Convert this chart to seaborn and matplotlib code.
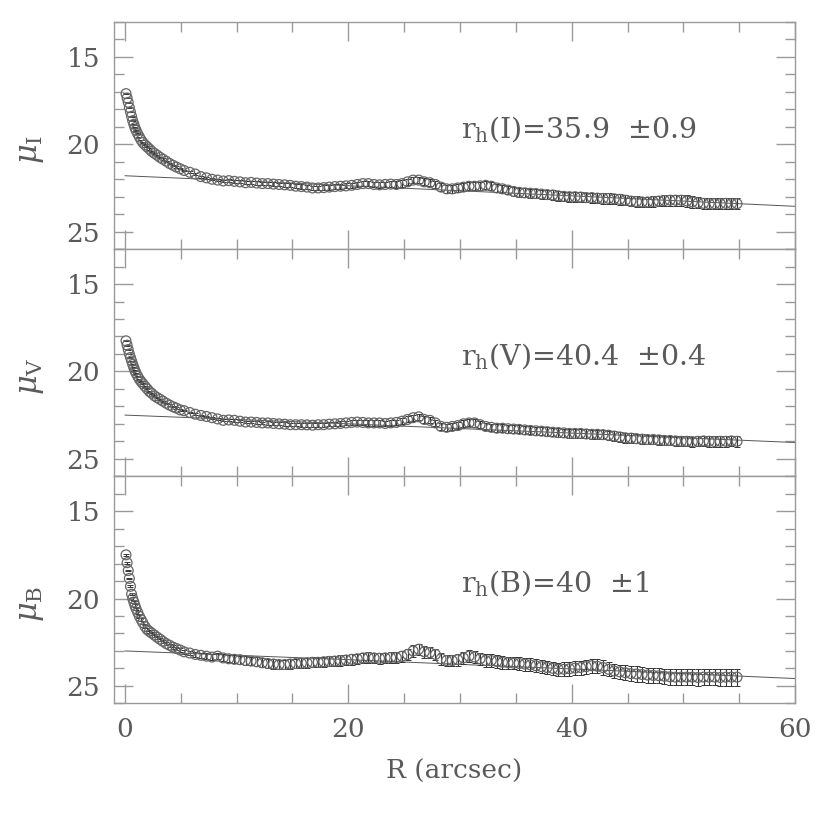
import numpy as np
import pandas as pd
import matplotlib
matplotlib.use("Agg")
import matplotlib.pyplot as plt
from matplotlib.ticker import MultipleLocator
import seaborn as sns

# radii (arcsec) of the isophotal points, same for the three bands
radius = [0.1, 0.2, 0.3, 0.4, 0.5, 0.6, 0.7, 0.8, 0.9, 1.0, 1.15, 1.3, 1.45, 1.6,
          1.8, 2.0, 2.2, 2.4, 2.65, 2.9, 3.15, 3.4, 3.7, 4.0, 4.3, 4.6, 4.95,
          5.3, 5.8, 6.3, 6.8, 7.3, 7.8, 8.3, 8.8, 9.3, 9.8,
          10.3, 10.8, 11.3, 11.8, 12.3, 12.8, 13.3, 13.8, 14.3, 14.8,
          15.3, 15.8, 16.3, 16.8, 17.3, 17.8, 18.3, 18.8, 19.3, 19.8,
          20.3, 20.8, 21.3, 21.8, 22.3, 22.8, 23.3, 23.8, 24.3, 24.8,
          25.3, 25.8, 26.3, 26.8, 27.3, 27.8, 28.3, 28.8, 29.3, 29.8,
          30.3, 30.8, 31.3, 31.8, 32.3, 32.8, 33.3, 33.8, 34.3, 34.8,
          35.3, 35.8, 36.3, 36.8, 37.3, 37.8, 38.3, 38.8, 39.3, 39.8,
          40.3, 40.8, 41.3, 41.8, 42.3, 42.8, 43.3, 43.8, 44.3, 44.8,
          45.3, 45.8, 46.3, 46.8, 47.3, 47.8, 48.3, 48.8, 49.3, 49.8,
          50.3, 50.8, 51.3, 51.8, 52.3, 52.8, 53.3, 53.8, 54.3, 54.8]

mu_I = [17.1, 17.35, 17.6, 17.9, 18.15, 18.4, 18.65, 18.85, 19.05, 19.2, 19.4, 19.58, 19.75, 19.9,
        20.03, 20.15, 20.27, 20.4, 20.52, 20.63, 20.75, 20.85, 20.97, 21.1, 21.2, 21.3, 21.4,
        21.5, 21.6, 21.7, 21.85, 21.92, 22.0, 22.05, 22.1, 22.08, 22.12,
        22.15, 22.2, 22.18, 22.22, 22.25, 22.25, 22.28, 22.3, 22.32, 22.35,
        22.4, 22.42, 22.45, 22.5, 22.5, 22.48, 22.45, 22.42, 22.4, 22.38,
        22.35, 22.3, 22.25, 22.25, 22.3, 22.32, 22.3, 22.28, 22.3, 22.25,
        22.15, 22.05, 22.05, 22.15, 22.2, 22.3, 22.45, 22.55, 22.55, 22.5,
        22.45, 22.4, 22.4, 22.38, 22.35, 22.4, 22.5, 22.55, 22.62, 22.7,
        22.75, 22.78, 22.8, 22.82, 22.85, 22.88, 22.9, 22.95, 22.98, 23.0,
        23.0, 23.02, 23.05, 23.05, 23.08, 23.1, 23.1, 23.12, 23.15, 23.2,
        23.25, 23.28, 23.3, 23.3, 23.28, 23.25, 23.22, 23.2, 23.2, 23.2,
        23.25, 23.3, 23.35, 23.38, 23.4, 23.4, 23.4, 23.38, 23.4, 23.4]

mu_V = [18.25, 18.5, 18.75, 19.0, 19.2, 19.4, 19.6, 19.78, 19.95, 20.1, 20.28, 20.45, 20.58, 20.7,
        20.85, 21.0, 21.15, 21.25, 21.4, 21.5, 21.6, 21.7, 21.82, 21.93, 22.02, 22.1, 22.2,
        22.25, 22.35, 22.45, 22.52, 22.58, 22.65, 22.72, 22.8, 22.78, 22.8,
        22.85, 22.9, 22.9, 22.92, 22.95, 22.95, 22.98, 23.0, 23.02, 23.05,
        23.05, 23.05, 23.06, 23.08, 23.05, 23.05, 23.02, 23.0, 22.98, 22.95,
        22.92, 22.9, 22.92, 22.95, 22.95, 22.95, 22.98, 22.95, 22.92, 22.85,
        22.75, 22.65, 22.6, 22.75, 22.8, 22.95, 23.15, 23.2, 23.15, 23.1,
        23.0, 22.95, 22.95, 23.05, 23.15, 23.2, 23.25, 23.25, 23.28, 23.3,
        23.32, 23.35, 23.38, 23.4, 23.42, 23.45, 23.48, 23.5, 23.52, 23.55,
        23.55, 23.55, 23.58, 23.6, 23.6, 23.62, 23.65, 23.7, 23.75, 23.8,
        23.82, 23.85, 23.88, 23.9, 23.9, 23.92, 23.95, 23.95, 23.98, 24.0,
        24.0, 24.02, 24.0, 23.98, 24.0, 24.02, 24.0, 24.0, 23.98, 24.0]

mu_B = [17.5, 17.95, 18.4, 18.85, 19.3, 19.75, 20.0, 20.2, 20.4, 20.58, 20.8, 21.02, 21.2, 21.38,
        21.6, 21.78, 21.88, 21.98, 22.1, 22.22, 22.33, 22.45, 22.58, 22.68, 22.78, 22.86, 22.95,
        23.05, 23.12, 23.2, 23.25, 23.3, 23.35, 23.3, 23.4, 23.45, 23.48,
        23.5, 23.55, 23.58, 23.62, 23.68, 23.72, 23.75, 23.78, 23.78, 23.75,
        23.72, 23.7, 23.68, 23.65, 23.65, 23.62, 23.6, 23.58, 23.55, 23.52,
        23.48, 23.45, 23.4, 23.38, 23.4, 23.42, 23.4, 23.38, 23.38, 23.3,
        23.2, 23.0, 22.9, 23.05, 23.1, 23.2, 23.45, 23.55, 23.55, 23.5,
        23.4, 23.3, 23.35, 23.45, 23.55, 23.55, 23.6, 23.65, 23.68, 23.7,
        23.72, 23.75, 23.8, 23.85, 23.9, 23.95, 24.0, 24.05, 24.05, 24.02,
        23.98, 23.95, 23.9, 23.85, 23.88, 23.95, 24.05, 24.15, 24.2, 24.25,
        24.3, 24.32, 24.35, 24.38, 24.4, 24.42, 24.45, 24.48, 24.5, 24.5,
        24.5, 24.5, 24.52, 24.5, 24.5, 24.5, 24.52, 24.5, 24.5, 24.5]

err_I = [0.02, 0.02, 0.02, 0.02, 0.02, 0.02, 0.02, 0.02, 0.02, 0.02, 0.02, 0.02, 0.02, 0.02,
         0.03, 0.03, 0.03, 0.03, 0.03, 0.03, 0.03, 0.04, 0.04, 0.04, 0.04, 0.04, 0.04,
         0.05, 0.05, 0.06, 0.06, 0.06, 0.07, 0.07, 0.07, 0.08, 0.08,
         0.08, 0.09, 0.09, 0.1, 0.1, 0.1, 0.11, 0.11, 0.12, 0.12,
         0.12, 0.13, 0.13, 0.13, 0.14, 0.14, 0.14, 0.15, 0.15, 0.15,
         0.15, 0.16, 0.16, 0.16, 0.17, 0.17, 0.17, 0.18, 0.18, 0.18,
         0.19, 0.19, 0.19, 0.2, 0.2, 0.2, 0.21, 0.21, 0.21, 0.22,
         0.22, 0.22, 0.22, 0.23, 0.23, 0.23, 0.24, 0.24, 0.24, 0.24,
         0.25, 0.25, 0.25, 0.26, 0.26, 0.26, 0.27, 0.27, 0.27, 0.28,
         0.28, 0.28, 0.28, 0.29, 0.29, 0.29, 0.29, 0.3, 0.3, 0.3,
         0.3, 0.3, 0.31, 0.31, 0.31, 0.31, 0.31, 0.32, 0.32, 0.32,
         0.32, 0.32, 0.32, 0.33, 0.33, 0.33, 0.33, 0.33, 0.33, 0.33]

err_V = [0.02, 0.02, 0.02, 0.02, 0.02, 0.02, 0.02, 0.02, 0.02, 0.02, 0.02, 0.02, 0.02, 0.02,
         0.03, 0.03, 0.03, 0.03, 0.03, 0.03, 0.03, 0.03, 0.04, 0.04, 0.04, 0.04, 0.04,
         0.04, 0.05, 0.05, 0.05, 0.05, 0.06, 0.06, 0.06, 0.06, 0.07,
         0.07, 0.07, 0.08, 0.08, 0.08, 0.09, 0.09, 0.09, 0.1, 0.1,
         0.1, 0.11, 0.11, 0.11, 0.12, 0.12, 0.12, 0.13, 0.13, 0.13,
         0.14, 0.14, 0.14, 0.15, 0.15, 0.15, 0.16, 0.16, 0.16, 0.17,
         0.17, 0.17, 0.18, 0.18, 0.18, 0.19, 0.19, 0.19, 0.2, 0.2,
         0.2, 0.2, 0.21, 0.21, 0.21, 0.21, 0.22, 0.22, 0.22, 0.22,
         0.23, 0.23, 0.23, 0.23, 0.24, 0.24, 0.24, 0.24, 0.25, 0.25,
         0.25, 0.25, 0.26, 0.26, 0.26, 0.26, 0.26, 0.27, 0.27, 0.27,
         0.27, 0.27, 0.28, 0.28, 0.28, 0.28, 0.28, 0.28, 0.29, 0.29,
         0.29, 0.29, 0.29, 0.29, 0.3, 0.3, 0.3, 0.3, 0.3, 0.3]

err_B = [0.05, 0.05, 0.05, 0.05, 0.05, 0.05, 0.06, 0.06, 0.06, 0.06, 0.06, 0.07, 0.07, 0.07,
         0.07, 0.08, 0.08, 0.08, 0.09, 0.09, 0.09, 0.1, 0.1, 0.1, 0.11, 0.11, 0.12,
         0.13, 0.14, 0.15, 0.16, 0.17, 0.18, 0.19, 0.2, 0.21, 0.22,
         0.23, 0.24, 0.24, 0.25, 0.25, 0.26, 0.26, 0.27, 0.27, 0.27,
         0.28, 0.28, 0.28, 0.28, 0.29, 0.29, 0.29, 0.29, 0.3, 0.3,
         0.3, 0.3, 0.3, 0.31, 0.31, 0.31, 0.31, 0.31, 0.32, 0.32,
         0.32, 0.32, 0.32, 0.33, 0.33, 0.33, 0.33, 0.33, 0.34, 0.34,
         0.34, 0.34, 0.35, 0.35, 0.35, 0.35, 0.36, 0.36, 0.36, 0.36,
         0.37, 0.37, 0.37, 0.37, 0.38, 0.38, 0.38, 0.38, 0.39, 0.39,
         0.39, 0.4, 0.4, 0.4, 0.4, 0.41, 0.41, 0.41, 0.42, 0.42,
         0.42, 0.43, 0.43, 0.43, 0.44, 0.44, 0.44, 0.45, 0.45, 0.45,
         0.46, 0.46, 0.46, 0.47, 0.47, 0.47, 0.48, 0.48, 0.48, 0.48]

# model fits, read at R = 0, 10, ..., 60
fit_R = [0, 10, 20, 30, 40, 50, 60]
fit_I = [21.8, 22.08, 22.37, 22.66, 22.95, 23.25, 23.55]
fit_V = [22.5, 22.75, 23.0, 23.27, 23.53, 23.8, 24.07]
fit_B = [23.0, 23.25, 23.5, 23.77, 24.03, 24.3, 24.58]

bands = ["I", "V", "B"]
labels = ["r$_{\\rm h}$(I)=35.9  ±0.9", "r$_{\\rm h}$(V)=40.4  ±0.4", "r$_{\\rm h}$(B)=40  ±1"]

profiles = {"I": (mu_I, err_I, fit_I), "V": (mu_V, err_V, fit_V), "B": (mu_B, err_B, fit_B)}

sns.set_style("ticks")
plt.rcParams["font.family"] = ["DejaVu Serif"]
plt.rcParams["mathtext.fontset"] = "dejavuserif"

grey = "#5a5a5a"
axcol = "#9a9a9a"

fig, axes = plt.subplots(3, 1, sharex=True, figsize=(8.3, 8.15), dpi=100)
fig.subplots_adjust(left=0.137, right=0.958, top=0.973, bottom=0.137, hspace=0)

for ax, band, lab in zip(axes, bands, labels):
    mu, err, fit = profiles[band]
    df = pd.DataFrame({"R": radius, "mu": mu, "err": err})
    ax.errorbar(df["R"], df["mu"], yerr=df["err"], fmt="none", ecolor="#333333",
                elinewidth=0.8, capsize=2, capthick=0.7, zorder=2)
    sns.scatterplot(data=df, x="R", y="mu", ax=ax, marker="o", s=50,
                    facecolors="none", edgecolor="#666666", linewidth=0.9, zorder=3)
    sns.lineplot(x=fit_R, y=fit, ax=ax, color="#555555", lw=0.7, zorder=1)

    ax.set_xlim(-1, 60)
    ax.set_ylim(26, 13)
    ax.yaxis.set_major_locator(MultipleLocator(5))
    ax.yaxis.set_minor_locator(MultipleLocator(1))
    ax.xaxis.set_major_locator(MultipleLocator(20))
    ax.xaxis.set_minor_locator(MultipleLocator(5))
    ax.tick_params(which="both", direction="in", top=True, right=True,
                   color=axcol, labelcolor=grey, labelsize=19, width=1)
    ax.tick_params(which="major", length=14, pad=10)
    ax.tick_params(which="minor", length=7)
    for sp in ax.spines.values():
        sp.set_color(axcol)
        sp.set_linewidth(1)

    ax.set_xlabel("")
    ax.set_ylabel("$\\mu_{\\rm " + band + "}$", fontsize=22, color=grey)
    ax.yaxis.set_label_coords(-0.1, 0.44)
    ax.text(0.51, 0.53, lab, transform=ax.transAxes, fontsize=20.5, color=grey,
            ha="left", va="center")

axes[-1].set_xlabel("R (arcsec)", fontsize=19, color=grey, labelpad=12)

plt.savefig("out.png", dpi=100)
